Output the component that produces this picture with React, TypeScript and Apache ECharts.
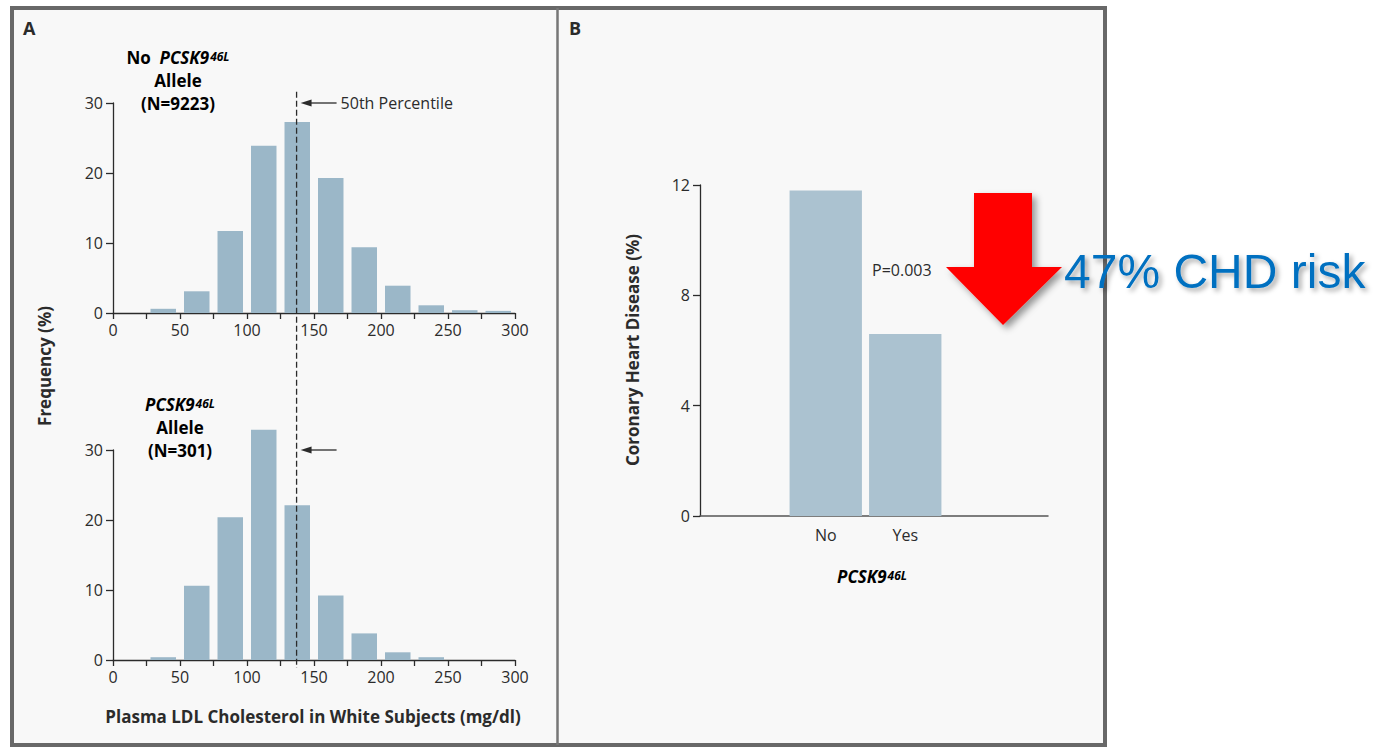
import React, { useEffect, useRef } from "react";
import * as echarts from "echarts";

// LDL histogram bins (mg/dl), 25-wide
const binStarts = [25, 50, 75, 100, 125, 150, 175, 200, 225, 250, 275];
const binWidth = 25;
// Frequency (%) of LDL levels, carriers without / with the PCSK9 46L allele
const freqNoAllele = [0.6, 3.1, 11.7, 23.9, 27.3, 19.3, 9.4, 3.9, 1.1, 0.4, 0.3];
const freqAllele = [0.4, 10.6, 20.4, 32.9, 22.1, 9.2, 3.8, 1.1, 0.4, 0, 0];
const medianLdl = 137;
const ldlMax = 300;
const freqMax = 30;

// Coronary heart disease rate by allele status
const chdGroups = ["No", "Yes"];
const chdRates = [11.8, 6.6];
const chdMax = 12;

const FONT = "'Open Sans', 'Noto Sans', sans-serif";
const INK = "#2b2b2b";
const HIST_COLOR = "#9bb7c8";
const CHD_COLOR = "#abc2d0";
const TICK_SIZE = 16;
const TITLE_SIZE = 17;

const histItem = (params: any, api: any) => {
  const x0 = api.value(0);
  const x1 = api.value(1);
  const v = api.value(2);
  const p0 = api.coord([x0, 0]);
  const p1 = api.coord([x1, v]);
  const inset = 4;
  return {
    type: "rect",
    shape: {
      x: p0[0] + inset,
      y: p1[1],
      width: p1[0] - p0[0] - 2 * inset,
      height: p0[1] - p1[1],
    },
    style: { fill: HIST_COLOR },
  };
};

const histData = (vals: number[]) =>
  binStarts.map((s, i) => [s, s + binWidth, vals[i]]);

const ldlAxis = (gridIndex: number) => ({
  type: "value",
  gridIndex,
  min: 0,
  max: ldlMax,
  interval: 25,
  splitLine: { show: false },
  axisLine: { show: true, onZero: false, lineStyle: { color: INK, width: 1.3 } },
  axisTick: { show: true, length: 6, lineStyle: { color: INK, width: 1.3 } },
  axisLabel: {
    show: true,
    margin: 9,
    color: INK,
    fontFamily: FONT,
    fontSize: TICK_SIZE,
    formatter: (v: number) => (v % 50 === 0 ? String(v) : ""),
  },
});

const freqAxis = (gridIndex: number) => ({
  type: "value",
  gridIndex,
  min: 0,
  max: freqMax,
  interval: 10,
  splitLine: { show: false },
  axisLine: { show: true, lineStyle: { color: INK, width: 1.3 } },
  axisTick: { show: true, length: 7, lineStyle: { color: INK, width: 1.3 } },
  axisLabel: { margin: 10, color: INK, fontFamily: FONT, fontSize: TICK_SIZE },
});

const richTitle = {
  b: { fontFamily: FONT, fontWeight: "bold", fontSize: TITLE_SIZE, color: INK, lineHeight: 23 },
  bi: {
    fontFamily: FONT,
    fontWeight: "bold",
    fontStyle: "italic",
    fontSize: TITLE_SIZE,
    color: INK,
    lineHeight: 23,
  },
  sup: {
    fontFamily: FONT,
    fontWeight: "bold",
    fontStyle: "italic",
    fontSize: 12,
    color: INK,
    lineHeight: 23,
    verticalAlign: "top",
    padding: [5, 0, 0, 1],
  },
};

export default function App() {
  const ref = useRef<HTMLDivElement>(null);

  useEffect(() => {
    document.body.style.margin = "0";
    document.body.style.background = "#ffffff";
    const chart = echarts.init(ref.current!, null, { renderer: "svg" });

    chart.setOption({
      animation: false,
      backgroundColor: "#ffffff",
      grid: [
        { left: 113, top: 103, width: 402, height: 210 },
        { left: 113, top: 450, width: 402, height: 210 },
        { left: 700, top: 185, width: 348, height: 331 },
        { left: 786, top: 185, width: 159, height: 331 },
      ],
      xAxis: [
        ldlAxis(0),
        ldlAxis(1),
        {
          type: "value",
          gridIndex: 2,
          min: 0,
          max: 1,
          splitLine: { show: false },
          axisLine: { show: true, lineStyle: { color: "#555", width: 1.5 } },
          axisTick: { show: false },
          axisLabel: { show: false },
        },
        {
          type: "category",
          gridIndex: 3,
          data: chdGroups,
          axisLine: { show: false },
          axisTick: { show: false },
          axisLabel: { margin: 11, color: INK, fontFamily: FONT, fontSize: TICK_SIZE },
        },
      ],
      yAxis: [
        freqAxis(0),
        freqAxis(1),
        {
          type: "value",
          gridIndex: 2,
          min: 0,
          max: chdMax,
          interval: 4,
          splitLine: { show: false },
          axisLine: { show: true, lineStyle: { color: INK, width: 1.3 } },
          axisTick: { show: true, length: 7, lineStyle: { color: INK, width: 1.3 } },
          axisLabel: { margin: 10, color: INK, fontFamily: FONT, fontSize: TICK_SIZE },
        },
        {
          type: "value",
          gridIndex: 3,
          min: 0,
          max: chdMax,
          show: false,
        },
      ],
      series: [
        {
          type: "custom",
          xAxisIndex: 0,
          yAxisIndex: 0,
          renderItem: histItem,
          encode: { x: [0, 1], y: 2 },
          data: histData(freqNoAllele),
          clip: false,
          z: 2,
        },
        {
          type: "custom",
          xAxisIndex: 1,
          yAxisIndex: 1,
          renderItem: histItem,
          encode: { x: [0, 1], y: 2 },
          data: histData(freqAllele),
          clip: false,
          z: 2,
        },
        {
          type: "bar",
          xAxisIndex: 3,
          yAxisIndex: 3,
          data: chdRates,
          barCategoryGap: "9%",
          itemStyle: { color: CHD_COLOR },
        },
      ],
    });

    // Median marker spanning both histograms
    const topPt = chart.convertToPixel({ xAxisIndex: 0, yAxisIndex: 0 }, [medianLdl, 31.6]) as number[];
    const botPt = chart.convertToPixel({ xAxisIndex: 1, yAxisIndex: 1 }, [medianLdl, -1.15]) as number[];
    const arrowTop = chart.convertToPixel({ xAxisIndex: 0, yAxisIndex: 0 }, [medianLdl, freqMax]) as number[];
    const arrowBot = chart.convertToPixel({ xAxisIndex: 1, yAxisIndex: 1 }, [medianLdl, freqMax]) as number[];

    const leftArrow = (tipX: number, y: number) => [
      {
        type: "line",
        shape: { x1: tipX + 6, y1: y, x2: tipX + 36, y2: y },
        style: { stroke: INK, lineWidth: 1.3 },
        z: 5,
      },
      {
        type: "polygon",
        shape: { points: [[tipX, y], [tipX + 11, y - 3.5], [tipX + 11, y + 3.5]] },
        style: { fill: INK },
        z: 5,
      },
    ];

    const boldTitle = (text: string, x: number, y: number, rotate = false) => ({
      type: "text",
      x,
      y,
      rotation: rotate ? Math.PI / 2 : 0,
      style: {
        text,
        fontFamily: FONT,
        fontWeight: "bold",
        fontSize: TITLE_SIZE,
        fill: INK,
        align: "center",
        verticalAlign: "middle",
      },
    });

    chart.setOption({
      graphic: [
        // panel frame
        {
          type: "rect",
          shape: { x: 12, y: 8, width: 1093, height: 737 },
          style: { fill: "#f8f8f8", stroke: "#686868", lineWidth: 4 },
          z: -10,
        },
        {
          type: "line",
          shape: { x1: 557.5, y1: 8, x2: 557.5, y2: 745 },
          style: { stroke: "#777", lineWidth: 2.5 },
          z: -9,
        },
        {
          type: "text",
          x: 23,
          y: 28,
          style: { text: "A", fontFamily: FONT, fontWeight: "bold", fontSize: 18, fill: INK, verticalAlign: "middle" },
        },
        {
          type: "text",
          x: 569,
          y: 28,
          style: { text: "B", fontFamily: FONT, fontWeight: "bold", fontSize: 18, fill: INK, verticalAlign: "middle" },
        },
        // histogram titles
        {
          type: "text",
          x: 178,
          y: 80,
          style: {
            text: "{b|No  }{bi|PCSK9}{sup|46L}\n{b|Allele}\n{b|(N=9223)}",
            rich: richTitle,
            align: "center",
            verticalAlign: "middle",
          },
        },
        {
          type: "text",
          x: 180,
          y: 427,
          style: {
            text: "{bi|PCSK9}{sup|46L}\n{b|Allele}\n{b|(N=301)}",
            rich: richTitle,
            align: "center",
            verticalAlign: "middle",
          },
        },
        // median line
        {
          type: "line",
          shape: { x1: topPt[0], y1: topPt[1], x2: botPt[0], y2: botPt[1] },
          style: { stroke: INK, lineWidth: 1.3, lineDash: [6, 3] },
          z: 5,
        },
        ...leftArrow(arrowTop[0] + 4, arrowTop[1]),
        ...leftArrow(arrowBot[0] + 4, arrowBot[1]),
        {
          type: "text",
          x: arrowTop[0] + 44,
          y: arrowTop[1],
          style: { text: "50th Percentile", fontFamily: FONT, fontSize: TICK_SIZE, fill: INK, verticalAlign: "middle" },
        },
        // axis titles
        boldTitle("Frequency (%)", 44, 366, true),
        boldTitle("Plasma LDL Cholesterol in White Subjects (mg/dl)", 313, 716),
        boldTitle("Coronary Heart Disease (%)", 632, 350, true),
        {
          type: "text",
          x: 872,
          y: 576,
          style: {
            text: "{bi|PCSK9}{sup|46L}",
            rich: richTitle,
            align: "center",
            verticalAlign: "middle",
          },
        },
        {
          type: "text",
          x: 872,
          y: 270,
          style: { text: "P=0.003", fontFamily: FONT, fontSize: TICK_SIZE, fill: INK, verticalAlign: "middle" },
        },
        // risk-reduction callout
        {
          type: "polygon",
          shape: {
            points: [
              [974, 193],
              [1032, 193],
              [1032, 267],
              [1062, 267],
              [1003, 325],
              [946, 267],
              [974, 267],
            ],
          },
          style: {
            fill: "#ff0000",
            shadowBlur: 7,
            shadowOffsetX: 4,
            shadowOffsetY: 4,
            shadowColor: "rgba(0,0,0,0.4)",
          },
          z: 10,
        },
        {
          type: "text",
          x: 1064,
          y: 271,
          style: {
            text: "47% CHD risk",
            fontFamily: "'Liberation Sans', Arial, sans-serif",
            fontSize: 48,
            fill: "#0070c0",
            verticalAlign: "middle",
            textShadowColor: "rgba(0,0,0,0.35)",
            textShadowBlur: 5,
            textShadowOffsetX: 3,
            textShadowOffsetY: 3,
          },
          z: 11,
        },
      ],
    });

    return () => chart.dispose();
  }, []);

  return <div ref={ref} style={{ width: 1381, height: 747 }} />;
}
